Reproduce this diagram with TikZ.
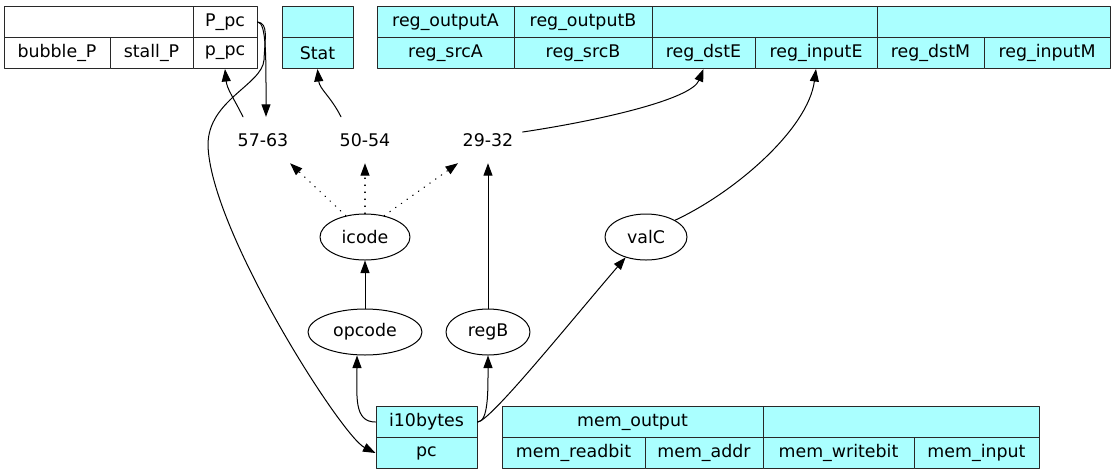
\documentclass[tikz,border=0pt]{standalone}
\usepackage{fontspec}
\setmainfont{DejaVu Sans}
\usetikzlibrary{arrows.meta,shapes.geometric}
\definecolor{Cy}{RGB}{170, 255, 255}
\definecolor{Bd}{RGB}{40, 40, 40}

\tikzset{
  cell/.style={draw=Bd, line width=1pt, inner sep=0pt, minimum height=31pt},
  oval/.style={draw, ellipse, line width=1pt, inner sep=0pt, minimum height=46pt},
  bits/.style={inner sep=0pt, minimum width=69pt, minimum height=46pt},
  wire/.style={->, line width=1pt},
  dotwire/.style={->, line width=1.2pt, dash pattern=on 0.5pt off 6.5pt}
}

\begin{document}
\begin{tikzpicture}[>={Stealth[length=12.5pt,width=9pt,inset=0pt]}, line cap=round, line join=round,
  x=1pt, y=-1pt, font=\fontsize{17.4}{20}\selectfont]
  \useasboundingbox (0,0) rectangle (1116,475);

  % pipeline register P
  \foreach \a/\b/\r/\nm/\t in {4/193/6/P0/{}, 193/257/6/Ppc/P\_pc,
      4/110/37/bubP/bubble\_P, 110/193/37/stallP/stall\_P, 193/257/37/ppc/p\_pc}
    \node[cell, fill=white, minimum width={(\b-\a)*1pt}] (\nm) at ({(\a+\b)/2},{\r+16}) {\t};

  % Stat, register file, fetch input and memory
  \foreach \a/\b/\r/\nm/\t in {282/353/6/stat0/{}, 282/353/37/stat/Stat,
      377/514/6/outA/reg\_outputA, 514/652/6/outB/reg\_outputB, 652/877/6/regE/{}, 877/1110/6/regM/{},
      377/514/37/srcA/reg\_srcA, 514/652/37/srcB/reg\_srcB, 652/755/37/dstE/reg\_dstE,
      755/877/37/inputE/reg\_inputE, 877/984/37/dstM/reg\_dstM, 984/1110/37/inputM/reg\_inputM,
      376/477/406/i10/i10bytes, 376/477/437/pc/pc,
      502/763/406/memOut/mem\_output, 763/1039/406/memW/{},
      502/645/437/readbit/mem\_readbit, 645/763/437/addr/mem\_addr,
      763/914/437/writebit/mem\_writebit, 914/1039/437/memIn/mem\_input}
    \node[cell, fill=Cy, minimum width={(\b-\a)*1pt}] (\nm) at ({(\a+\b)/2},{\r+16}) {\t};

  % decoded fields
  \node[oval, minimum width=90pt] (icode) at (365,237) {icode};
  \node[oval, minimum width=114pt] (opcode) at (365,332) {opcode};
  \node[oval, minimum width=84pt] (regB) at (488,332) {regB};
  \node[oval, minimum width=82pt] (valC) at (646,237) {valC};

  % bit ranges
  \node[bits] (b5763) at (263,140) {57-63};
  \node[bits] (b5054) at (365,140) {50-54};
  \node[bits] (b2932) at (488,140) {29-32};

  \draw[wire] (Ppc.east) .. controls +(9,0) and +(0,-60) .. ([xshift=3pt]b5763.north);
  \draw[wire] (Ppc.east) .. controls +(11,1) and +(1,-22) .. (264,60)
    .. controls +(-2,25) and +(0,-45) .. (208,145)
    .. controls +(2,85) and +(-34,-17) .. (pc.west);
  \draw[wire] ([xshift=-20pt]b5763.north) .. controls +(-10,-20) and +(2,20) .. (ppc.south);
  \draw[wire] ([xshift=-24pt]b5054.north) .. controls +(-10,-20) and +(2,20) .. (stat.south);
  \draw[wire] ([yshift=8pt]b2932.east) .. controls +(80,-12) and +(-12,30) .. (dstE.south);
  \draw[wire] (valC.30) .. controls +(60,-28) and +(-8,60) .. (inputE.south);

  \draw[wire] (regB) -- (b2932);
  \draw[wire] (opcode) -- (icode);
  \draw[dotwire] (icode.132) -- ([xshift=27pt]b5763.south);
  \draw[dotwire] (icode.north) -- (b5054.south);
  \draw[dotwire] (icode.48) -- ([xshift=-30pt]b2932.south);

  \draw[wire] (i10.west) .. controls +(-22,0) and +(0,40) .. ([xshift=-8pt]opcode.south);
  \draw[wire] (i10.east) .. controls +(11,0) and +(0,35) .. (regB.south);
  \draw[wire] (i10.east) .. controls +(12,0) and +(-60,70) .. (valC.-135);
\end{tikzpicture}
\end{document}
